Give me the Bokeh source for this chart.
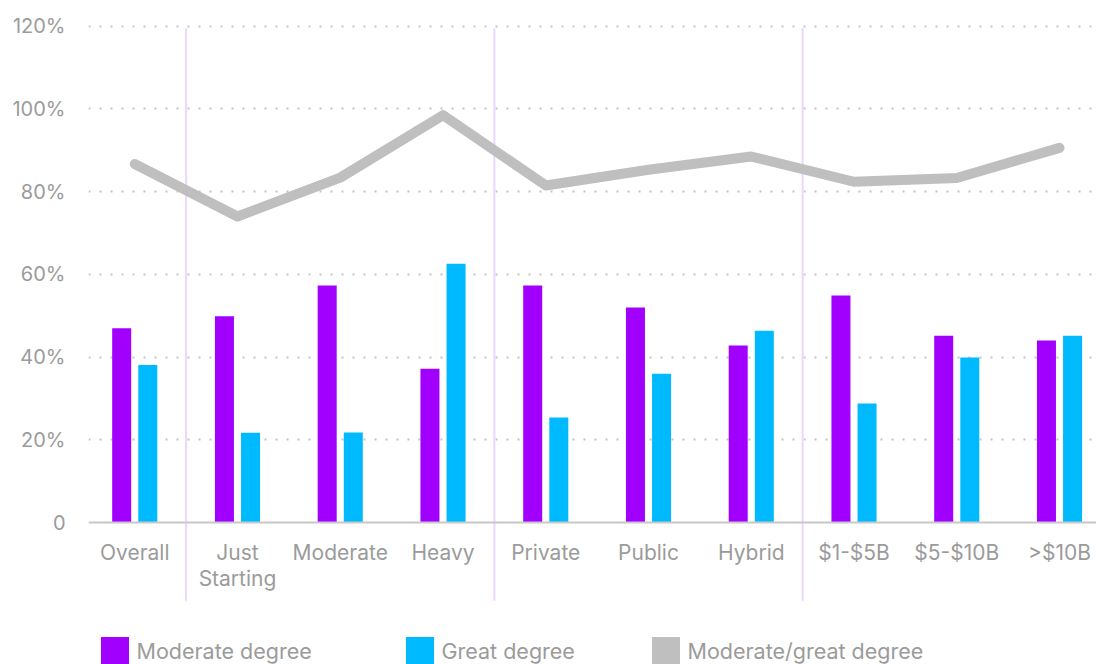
from bokeh.plotting import figure
from bokeh.models import ColumnDataSource, Range1d, FixedTicker, Span, Legend, LegendItem
from bokeh.transform import dodge
from bokeh.core.properties import value
from bokeh.embed import file_html
from bokeh.resources import INLINE

# ---- data ----
categories = ["Overall", "Just\nStarting", "Moderate", "Heavy", "Private",
              "Public", "Hybrid", "$1-$5B", "$5-$10B", ">$10B"]
moderate_degree = [47.0, 49.9, 57.3, 37.2, 57.3, 52.0, 42.8, 54.9, 45.2, 44.0]
great_degree = [38.1, 21.7, 21.8, 62.6, 25.4, 36.0, 46.4, 28.8, 39.9, 45.2]
moderate_great = [86.7, 74.0, 83.4, 98.5, 81.5, 85.3, 88.5, 82.4, 83.3, 90.6]
group_breaks = [0.5, 3.5, 6.5]
y_ticks = [0, 20, 40, 60, 80, 100, 120]
y_tick_labels = ["0", "20%", "40%", "60%", "80%", "100%", "120%"]

PURPLE = "#A100FF"
CYAN = "#00BAFF"
GREY_LINE = "#BFBFBF"
TEXT = "#9B9B9B"
FONT = "Inter"

idx = list(range(len(categories)))
src = ColumnDataSource(data=dict(x=idx, cat=categories, mod=moderate_degree,
                                 great=great_degree, comb=moderate_great,
                                 label_y=[-4.2] * len(categories)))

p = figure(width=1096, height=664, output_backend="svg", toolbar_location=None,
           x_range=Range1d(-0.45, 9.36), y_range=Range1d(-34.3, 120.9),
           x_axis_location=None, min_border_left=88, min_border_right=0,
           min_border_top=22, min_border_bottom=0)
p.outline_line_color = None
p.background_fill_color = "white"

# grid
p.xgrid.visible = False
p.ygrid.ticker = FixedTicker(ticks=y_ticks[1:])
p.ygrid.grid_line_color = "#C4C4C4"
p.ygrid.grid_line_width = 2
p.ygrid.grid_line_dash = "2 9"

# y axis
p.yaxis.ticker = FixedTicker(ticks=y_ticks)
p.yaxis.major_label_overrides = {t: l for t, l in zip(y_ticks, y_tick_labels)}
p.yaxis.axis_line_color = None
p.yaxis.major_tick_line_color = None
p.yaxis.minor_tick_line_color = None
p.yaxis.major_label_standoff = 17
p.yaxis.major_label_text_font = FONT
p.yaxis.major_label_text_font_size = "20px"
p.yaxis.major_label_text_color = TEXT

# group separators
p.segment(x0=group_breaks, x1=group_breaks, y0=[119.5] * 3, y1=[-18.9] * 3,
          line_color="#ECD6FB", line_width=2)

# baseline
p.add_layout(Span(location=0, dimension="width", line_color="#C8C8C8", line_width=2))

# bars
r_mod = p.vbar(x=dodge("x", -0.127, range=p.x_range), top="mod", width=0.185,
               source=src, fill_color=PURPLE, line_color=None)
r_great = p.vbar(x=dodge("x", 0.127, range=p.x_range), top="great", width=0.185,
                 source=src, fill_color=CYAN, line_color=None)

# line
p.line(x="x", y="comb", source=src, line_color=GREY_LINE, line_width=10,
       line_cap="round", line_join="round")
# zero-height bars used only as the legend swatch of the line series
proxy = p.vbar(x="x", top="comb", bottom="comb", width=0.1, source=src,
               fill_color=GREY_LINE, line_color=None)

# category labels
p.text(x="x", y="label_y", text="cat", source=src, text_align="center",
       text_baseline="top", text_font=value(FONT), text_font_size="21px",
       text_color=TEXT, text_line_height=1.06)

# legend (three items positioned individually)
for rend, lab, xoff in [(r_mod, "Moderate degree", 8.5),
                        (r_great, "Great degree", 313.5),
                        (proxy, "Moderate/great degree", 559.5)]:
    lg = Legend(items=[LegendItem(label=lab, renderers=[rend])],
                location=(xoff, -4), orientation="horizontal",
                border_line_color=None, background_fill_alpha=0,
                padding=0, margin=0, spacing=0, label_standoff=5,
                glyph_width=35, glyph_height=35, label_height=35,
                label_text_font=FONT, label_text_font_size="21.5px",
                label_text_color=TEXT)
    p.add_layout(lg, "center")

open("out.html", "w").write(file_html(p, INLINE))
